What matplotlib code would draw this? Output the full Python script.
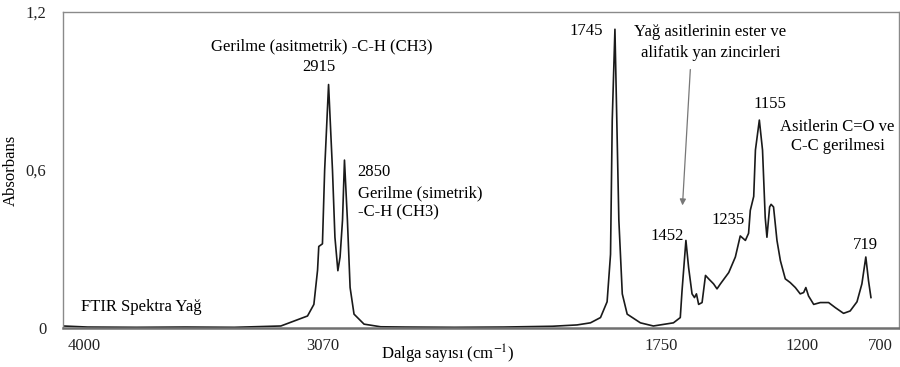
import numpy as np
import matplotlib
matplotlib.use("Agg")
import matplotlib.pyplot as plt

plt.rcParams["font.family"] = ["Liberation Serif", "DejaVu Serif"]
plt.rcParams["mathtext.fontset"] = "stix"

# FTIR spectrum (wavenumber cm-1, absorbance)
wavenumber = [4000, 3900, 3700, 3500, 3300, 3110, 3001, 2975, 2960, 2955, 2940,
              2931, 2915, 2899, 2889, 2877, 2868, 2858, 2850, 2838, 2827, 2811,
              2770, 2702, 2600, 2400, 2200, 2000, 1900, 1845, 1804, 1777, 1763,
              1756, 1745, 1729, 1715, 1695, 1641, 1588, 1506, 1478, 1471, 1455,
              1444, 1430, 1420, 1412, 1403, 1389, 1375, 1362, 1342, 1328, 1314,
              1280, 1253, 1233, 1212, 1199, 1192, 1178, 1171, 1155, 1142, 1131,
              1124, 1113, 1107, 1097, 1083, 1069, 1049, 1029, 1008, 988, 974,
              965, 954, 933, 906, 872, 845, 811, 784, 756, 736, 720, 709, 699]
absorbance = [0.008, 0.004, 0.003, 0.004, 0.003, 0.008, 0.046, 0.090, 0.220,
              0.310, 0.320, 0.600, 0.925, 0.600, 0.345, 0.218, 0.270, 0.410,
              0.638, 0.410, 0.154, 0.053, 0.015, 0.005, 0.004, 0.003, 0.004,
              0.007, 0.012, 0.020, 0.040, 0.100, 0.280, 0.790, 1.135, 0.410,
              0.130, 0.053, 0.020, 0.008, 0.020, 0.040, 0.140, 0.333, 0.230,
              0.130, 0.116, 0.130, 0.090, 0.097, 0.200, 0.187, 0.168, 0.149,
              0.168, 0.211, 0.270, 0.350, 0.333, 0.360, 0.447, 0.500, 0.676,
              0.790, 0.676, 0.420, 0.345, 0.460, 0.470, 0.460, 0.333, 0.256,
              0.187, 0.173, 0.154, 0.130, 0.135, 0.154, 0.122, 0.090, 0.097,
              0.097, 0.078, 0.056, 0.065, 0.100, 0.168, 0.270, 0.180, 0.116]

y_ticks = [0, 0.6, 1.2]
y_tick_labels = ["0", "0,6", "1,2"]
x_tick_labels = ["4000", "3070", "1750", "1200", "700"]

fig = plt.figure(figsize=(9, 3.67), dpi=100)
ax = fig.add_axes([0.07, 0.106, 0.929, 0.861])

ax.plot(wavenumber, absorbance, color="#1a1a1a", lw=1.2)

ax.set_xlim(4000, 584)
ax.set_ylim(0, 1.2)

# category-style tick labels sit where the original chart put them
ax.set_xticks([3914, 2939, 1555, 980, 661], x_tick_labels)
ax.set_yticks(y_ticks, y_tick_labels)
ax.tick_params(length=0, labelsize=12, colors="#222222")
ax.tick_params(axis="x", pad=7)
ax.tick_params(axis="y", pad=12)

for s in ax.spines.values():
    s.set_color("#8a8a8a")
    s.set_linewidth(1.0)
ax.spines["bottom"].set_linewidth(1.8)
ax.spines["bottom"].set_color("#707070")

ax.set_ylabel("Absorbans", fontsize=12)
ax.yaxis.set_label_coords(-0.053, 0.5)
ax.set_xlabel("Dalga sayısı (cm$^{-1}$)", fontsize=12)
ax.xaxis.set_label_coords(0.46, -0.045)

fs = 12
ax.text(3927, 0.08, "FTIR Spektra Yağ", fontsize=fs, ha="left", va="center")
ax.text(2943, 1.07, "Gerilme (asitmetrik) -C-H (CH3)", fontsize=fs, ha="center", va="center")
ax.text(2955, 0.99, "2915", fontsize=fs, ha="center", va="center")
ax.text(2796, 0.592, "2850", fontsize=fs, ha="left", va="center")
ax.text(2796, 0.512, "Gerilme (simetrik)", fontsize=fs, ha="left", va="center")
ax.text(2796, 0.44, "-C-H (CH3)", fontsize=fs, ha="left", va="center")
ax.text(1861, 1.127, "1745", fontsize=fs, ha="center", va="center")
ax.text(1355, 1.123, "Yağ asitlerinin ester ve", fontsize=fs, ha="center", va="center")
ax.text(1352, 1.043, "alifatik yan zincirleri", fontsize=fs, ha="center", va="center")
ax.text(1531, 0.348, "1452", fontsize=fs, ha="center", va="center")
ax.text(1282, 0.409, "1235", fontsize=fs, ha="center", va="center")
ax.text(1110, 0.852, "1155", fontsize=fs, ha="center", va="center")
ax.text(837, 0.764, "Asitlerin C=O ve", fontsize=fs, ha="center", va="center")
ax.text(833, 0.692, "C-C gerilmesi", fontsize=fs, ha="center", va="center")
ax.text(722, 0.317, "719", fontsize=fs, ha="center", va="center")

ax.annotate("", xy=(1469, 0.466), xytext=(1437, 0.982),
            arrowprops=dict(arrowstyle="-|>", color="#777777", lw=0.9,
                            mutation_scale=9, shrinkA=0, shrinkB=0))

fig.savefig("out.png", dpi=100)
